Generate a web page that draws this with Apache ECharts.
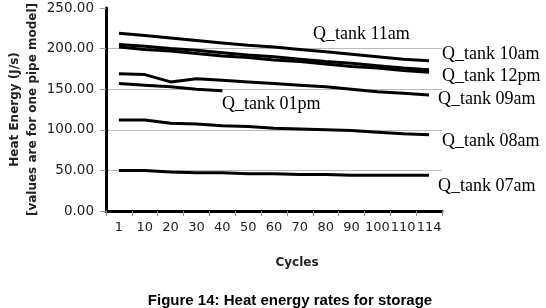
<!DOCTYPE html>
<html>
<head>
<meta charset="utf-8">
<script src="https://cdn.jsdelivr.net/npm/echarts@6/dist/echarts.min.js"></script>
<style>
  html, body { margin: 0; padding: 0; background: #fff; }
  #chart { width: 546px; height: 308px; }
</style>
</head>
<body>
<div id="chart"></div>
<script>
// cycles on the x axis
var cycles = ['1', '10', '20', '30', '40', '50', '60', '70', '80', '90', '100', '110', '114']

// heat energy per series (J/s)
var tank07am = [50, 50, 48, 47, 47, 46, 46, 45, 45, 44, 44, 44, 44]
var tank08am = [112, 112, 108, 107, 105, 104, 102, 101, 100, 99, 97, 95, 94]
var tank09am = [169, 168, 159, 163, 161, 159, 157, 155, 153, 150, 147, 145, 143]
var tank10am = [205, 203, 200, 198, 195, 192, 190, 187, 184, 182, 179, 176, 174]
var tank11am = [219, 216, 213, 210, 207, 204, 202, 199, 196, 193, 190, 187, 185]
var tank12pm = [202, 199, 197, 194, 191, 189, 186, 184, 181, 178, 176, 173, 171]
var tank01pm = [157, 155, 153, 150, 148]

var yTicks = [0, 50, 100, 150, 200, 250]

var seriesNames = ['Q_tank 07am', 'Q_tank 08am', 'Q_tank 09am', 'Q_tank 10am', 'Q_tank 11am', 'Q_tank 12pm', 'Q_tank 01pm']
var seriesData = [tank07am, tank08am, tank09am, tank10am, tank11am, tank12pm, tank01pm]

// where the free-floating series labels sit
var labelPos = {
  'Q_tank 11am': [313, 35],
  'Q_tank 10am': [442, 55],
  'Q_tank 12pm': [442, 77],
  'Q_tank 09am': [438, 100],
  'Q_tank 01pm': [222, 105],
  'Q_tank 08am': [442, 142],
  'Q_tank 07am': [438, 187]
}

var myChart = echarts.init(document.getElementById('chart'))

var series = seriesData.map(function (d, i) {
  return {
    name: seriesNames[i],
    type: 'line',
    data: d,
    symbol: 'none',
    smooth: false,
    lineStyle: { color: '#000', width: 3 },
    animation: false
  }
})

var labels = seriesNames.map(function (n) {
  return {
    type: 'text',
    left: labelPos[n][0],
    top: labelPos[n][1] - 10,
    style: {
      text: n,
      font: '18px "Liberation Serif"',
      fill: '#000'
    }
  }
})

var option = {
  animation: false,
  title: {
    text: 'Figure 14: Heat energy rates for storage',
    left: 285,
    textAlign: 'center',
    top: 288,
    textStyle: {
      fontFamily: 'Liberation Sans',
      fontWeight: 'bold',
      fontSize: 15,
      color: '#000'
    }
  },
  grid: {
    left: 106,
    right: 104,
    top: 8,
    bottom: 97,
    containLabel: false,
    outerBoundsMode: 'none'
  },
  xAxis: {
    type: 'category',
    data: cycles,
    boundaryGap: true,
    name: 'Cycles',
    nameLocation: 'middle',
    nameGap: 46,
    nameMoveOverlap: false,
    nameTextStyle: {
      fontFamily: 'DejaVu Sans',
      fontWeight: 'bold',
      fontSize: 12,
      color: '#222',
      padding: [0, 0, 0, 46]
    },
    axisLine: { lineStyle: { color: '#000', width: 3 } },
    axisTick: { show: true, length: 5, lineStyle: { color: '#888', width: 1 } },
    axisLabel: {
      interval: 0,
      margin: 10,
      fontFamily: 'DejaVu Sans',
      fontSize: 13,
      color: '#222'
    },
    splitLine: { show: false }
  },
  yAxis: {
    type: 'value',
    min: yTicks[0],
    max: yTicks[yTicks.length - 1],
    interval: 50,
    name: 'Heat Energy (J/s)\n[values are for one pipe model]',
    nameLocation: 'middle',
    nameRotate: 90,
    nameGap: 64,
    nameMoveOverlap: false,
    nameTextStyle: {
      fontFamily: 'DejaVu Sans',
      fontWeight: 'bold',
      fontSize: 12,
      lineHeight: 18,
      color: '#222'
    },
    axisLine: { show: true, lineStyle: { color: '#000', width: 3 } },
    axisTick: { show: true, length: 6, lineStyle: { color: '#999', width: 1 } },
    axisLabel: {
      margin: 12,
      fontFamily: 'DejaVu Sans',
      fontSize: 13.5,
      color: '#222',
      formatter: function (v) { return v.toFixed(2) }
    },
    splitLine: {
      show: true,
      lineStyle: { color: ['#bbb', '#bbb', '#bbb', '#bbb', '#bbb', 'rgba(0,0,0,0)'], width: 1 }
    }
  },
  graphic: labels,
  series: series
}

myChart.setOption(option)
</script>
</body>
</html>
